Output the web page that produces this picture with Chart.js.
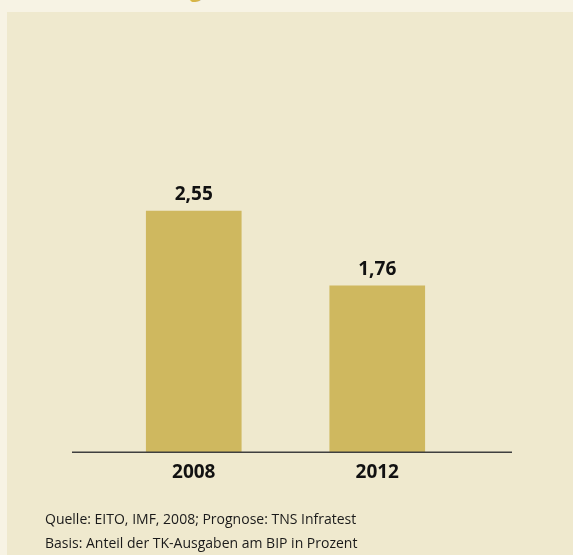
<!DOCTYPE html>
<html lang="de">
  <head>
    <meta charset="UTF-8" />
    <meta name="viewport" content="width=device-width, initial-scale=1.0" />
    <title>TK-Ausgaben</title>
    <script src="https://cdn.jsdelivr.net/npm/chart.js"></script>
    <style>
      html,
      body {
        margin: 0;
        padding: 0;
        width: 573px;
        height: 555px;
        overflow: hidden;
        background: #f7f3e4;
        font-family: "Open Sans", sans-serif;
      }
      #titel {
        position: absolute;
        left: 190px;
        top: -22px;
        font-size: 21px;
        font-weight: bold;
        color: #d6b548;
        line-height: 22px;
      }
      #panel {
        position: absolute;
        left: 7px;
        top: 12px;
        right: 0;
        bottom: 0;
        background: #efe9ce;
      }
      #wrap {
        position: absolute;
        left: 0;
        top: 0;
        width: 573px;
        height: 555px;
      }
      .fuss {
        position: absolute;
        left: 45px;
        font-size: 14px;
        color: #1a1a1a;
        white-space: nowrap;
      }
    </style>
  </head>
  <body>
    <div id="titel">g</div>
    <div id="panel"></div>
    <div id="wrap"><canvas id="tkChart" width="573" height="555"></canvas></div>
    <div class="fuss" style="top: 509px">Quelle: EITO, IMF, 2008; Prognose: TNS Infratest</div>
    <div class="fuss" style="top: 533px">Basis: Anteil der TK-Ausgaben am BIP in Prozent</div>

    <script>
      // Jahre und Anteil der TK-Ausgaben am BIP (in Prozent)
      const jahre = ["2008", "2012"];
      const anteil = [2.55, 1.76];

      const labelFont = { family: "Open Sans", size: 19, weight: "bold" };

      // Grundlinie unter den Balken, etwas breiter als die Zeichenfläche
      const grundlinie = {
        id: "grundlinie",
        afterDatasetsDraw(chart) {
          const { ctx, chartArea, scales } = chart;
          const y = scales.y.getPixelForValue(0);
          ctx.save();
          ctx.strokeStyle = "#3f3f3f";
          ctx.lineWidth = 1.5;
          ctx.beginPath();
          ctx.moveTo(chartArea.left - 30, y);
          ctx.lineTo(chartArea.right + 43, y);
          ctx.stroke();
          ctx.restore();
        },
      };

      // Werte über den Balken, mit Komma
      const werte = {
        id: "werte",
        afterDatasetsDraw(chart) {
          const { ctx } = chart;
          const meta = chart.getDatasetMeta(0);
          ctx.save();
          ctx.font = "bold 19px 'Open Sans'";
          ctx.fillStyle = "#111";
          ctx.textAlign = "center";
          ctx.textBaseline = "alphabetic";
          meta.data.forEach((bar, i) => {
            const text = anteil[i].toFixed(2).replace(".", ",");
            ctx.fillText(text, bar.x, bar.y - 11);
          });
          ctx.restore();
        },
      };

      new Chart(document.getElementById("tkChart"), {
        type: "bar",
        data: {
          labels: jahre,
          datasets: [
            {
              data: anteil,
              backgroundColor: "#cfb85f",
              borderWidth: 0,
              barThickness: 95,
            },
          ],
        },
        options: {
          responsive: false,
          animation: false,
          layout: {
            padding: { left: 102, right: 104, top: 74, bottom: 62 },
          },
          plugins: {
            legend: { display: false },
            tooltip: { enabled: false },
          },
          scales: {
            x: {
              grid: { display: false, drawTicks: false },
              border: { display: false },
              ticks: {
                color: "#111",
                font: labelFont,
                padding: 9,
              },
            },
            y: {
              display: false,
              min: 0,
              max: 4,
            },
          },
        },
        plugins: [grundlinie, werte],
      });
    </script>
  </body>
</html>
